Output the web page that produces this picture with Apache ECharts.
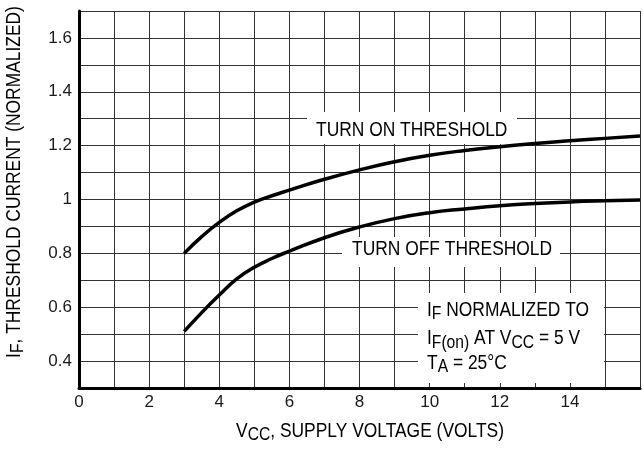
<!DOCTYPE html>
<html>
<head>
<meta charset="utf-8">
<script src="https://cdn.jsdelivr.net/npm/echarts@6/dist/echarts.min.js"></script>
<style>
html,body{margin:0;padding:0;background:#fff;}
#c{width:643px;height:449px;}
</style>
</head>
<body>
<div id="c"></div>
<script>
// Data
var vcc     = [3, 3.5, 4, 4.5, 5, 5.5, 6, 7, 8, 9, 10, 11, 12, 13, 14, 15, 16];
var turnOn  = [0.80, 0.862, 0.915, 0.958, 0.99, 1.014, 1.035, 1.075, 1.11, 1.14, 1.164, 1.182, 1.196, 1.208, 1.218, 1.227, 1.236];
var turnOff = [0.51, 0.58, 0.645, 0.705, 0.748, 0.781, 0.808, 0.858, 0.898, 0.929, 0.951, 0.965, 0.977, 0.985, 0.991, 0.995, 0.998];
var xTickLabels = ['0', '2', '4', '6', '8', '10', '12', '14'];
var yTickLabels = ['0.4', '0.6', '0.8', '1', '1.2', '1.4', '1.6'];

var FONT = "'Liberation Sans', Arial, sans-serif";
var TXT = '#1a1a1a';
var GRIDC = '#333';
var SX = 0.87; // horizontal condensing of the annotation lettering

function pairs(xs, ys) { return xs.map(function (x, i) { return [x, ys[i]]; }); }

var chart = echarts.init(document.getElementById('c'), null, { renderer: 'canvas' });

var rich = {
  n: { fontSize: 20, fontFamily: FONT, color: TXT, lineHeight: 26 },
  s: { fontSize: 18, fontFamily: FONT, color: TXT, lineHeight: 18, padding: [9, 0, 0, 0] }
};

function label(x, y, text, align, extra) {
  var g = { type: 'text', z: 4, x: x, y: y, scaleX: SX, scaleY: 1,
    style: { text: text, rich: rich, align: align, verticalAlign: 'middle' } };
  if (extra) for (var k in extra) g[k] = extra[k];
  return g;
}

chart.setOption({
  animation: false,
  backgroundColor: '#fff',
  grid: { left: 79, right: -4, top: 11, bottom: 61, containLabel: false },
  xAxis: {
    type: 'value', min: 0, max: 16, interval: 1,
    axisLine: { onZero: false, lineStyle: { color: '#000', width: 3 } },
    axisTick: { show: false },
    splitLine: { show: true, lineStyle: { color: GRIDC, width: 1 } },
    axisLabel: {
      margin: 6, fontSize: 17, fontFamily: FONT, color: TXT,
      formatter: function (v) { var s = String(Math.round(v)); return xTickLabels.indexOf(s) >= 0 && Math.abs(v - Math.round(v)) < 1e-6 ? s : ''; }
    }
  },
  yAxis: {
    type: 'value', min: 0.3, max: 1.7, interval: 0.1,
    axisLine: { show: true, onZero: false, lineStyle: { color: '#000', width: 3 } },
    axisTick: { show: false },
    splitLine: { show: true, lineStyle: { color: GRIDC, width: 1 } },
    axisLabel: {
      margin: 7, fontSize: 17, fontFamily: FONT, color: TXT,
      formatter: function (v) { var s = String(Math.round(v * 10) / 10); return yTickLabels.indexOf(s) >= 0 ? s : ''; }
    }
  },
  series: [
    { name: 'TURN ON THRESHOLD', type: 'line', data: pairs(vcc, turnOn), smooth: 0.5, showSymbol: false, symbol: 'none',
      lineStyle: { color: '#000', width: 3.5 }, z: 3 },
    { name: 'TURN OFF THRESHOLD', type: 'line', data: pairs(vcc, turnOff), smooth: 0.5, showSymbol: false, symbol: 'none',
      lineStyle: { color: '#000', width: 3.5 }, z: 3 }
  ],
  graphic: [
    { type: 'rect', z: 1, shape: { x: 307, y: 112, width: 210, height: 32 }, style: { fill: '#fff' } },
    label(316, 130, '{n|TURN ON THRESHOLD}', 'left'),
    { type: 'rect', z: 1, shape: { x: 342, y: 237, width: 218, height: 30 }, style: { fill: '#fff' } },
    label(352, 249.5, '{n|TURN OFF THRESHOLD}', 'left'),
    { type: 'rect', z: 1, shape: { x: 418, y: 293, width: 186, height: 90 }, style: { fill: '#fff' } },
    label(427, 310, '{n|I}{s|F}{n| NORMALIZED TO}', 'left'),
    label(427, 338.5, '{n|I}{s|F(on)}{n| AT V}{s|CC}{n| = 5 V}', 'left'),
    label(427, 363, '{n|T}{s|A}{n| = 25°C}', 'left'),
    label(370, 431, '{n|V}{s|CC}{n|, SUPPLY VOLTAGE (VOLTS)}', 'center'),
    label(14, 182, '{n|I}{s|F}{n|, THRESHOLD CURRENT (NORMALIZED)}', 'center', { rotation: Math.PI / 2 })
  ]
});
</script>
</body>
</html>
